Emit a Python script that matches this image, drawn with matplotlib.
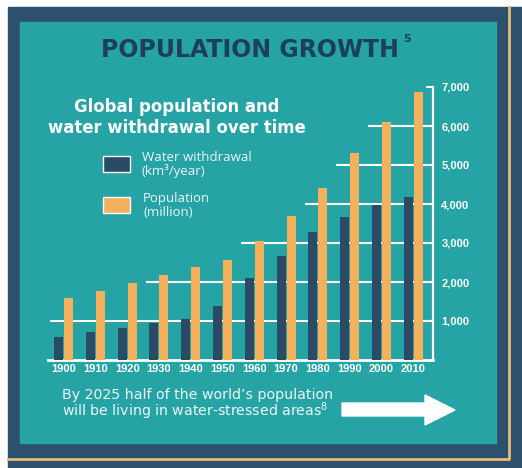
import matplotlib
matplotlib.use("Agg")
import matplotlib.pyplot as plt
from matplotlib.patches import Rectangle, Polygon

plt.rcParams['font.family'] = ['Liberation Sans', 'DejaVu Sans']

years = ['1900', '1910', '1920', '1930', '1940', '1950',
         '1960', '1970', '1980', '1990', '2000', '2010']
withdrawal = [590, 710, 820, 940, 1060, 1390, 2090, 2660, 3270, 3670, 3980, 4190]
population = [1580, 1760, 1970, 2170, 2380, 2570, 3040, 3680, 4420, 5300, 6090, 6870]
yticks = [1000, 2000, 3000, 4000, 5000, 6000, 7000]

TEAL = '#25a3a5'
FRAME = '#2d506d'
NAVY = '#2b4a66'
ORANGE = '#f3b15e'
GOLD = '#e6bc72'
TITLE = '#1c3f5c'
TXT = '#eef5f5'
W, H = 522, 468

fig = plt.figure(figsize=(W / 100, H / 100), dpi=100)
fig.patch.set_facecolor('white')

# background layer in pixel coordinates
bg = fig.add_axes([0, 0, 1, 1])
bg.set_xlim(0, W)
bg.set_ylim(H, 0)
bg.axis('off')
bg.add_patch(Rectangle((8, 7), W - 8, H - 7, color=FRAME, zorder=0))
bg.add_patch(Rectangle((20, 22), 476, 421, color=TEAL, zorder=1))
bg.plot([8, 509, 509], [459, 459, 7], color=GOLD, lw=2, zorder=1)

# title
t = bg.text(250, 57, 'POPULATION GROWTH', color=TITLE, fontsize=17,
            fontweight='bold', ha='center', va='baseline', family='DejaVu Sans')
fig.canvas.draw()
bg.text(t.get_window_extent().x1 + 4, 42, '5', color=TITLE, fontsize=8,
        fontweight='bold', ha='left', va='baseline', family='DejaVu Sans')

# subtitle
bg.text(177, 112, 'Global population and', color='white', fontsize=11.9,
        fontweight='bold', ha='center', va='baseline', family='DejaVu Sans')
bg.text(177, 133, 'water withdrawal over time', color='white', fontsize=11.9,
        fontweight='bold', ha='center', va='baseline', family='DejaVu Sans')

# legend
bg.add_patch(Rectangle((103, 156), 27, 16, facecolor=NAVY, edgecolor='white', lw=1, zorder=3))
bg.add_patch(Rectangle((103, 197), 27, 16, facecolor=ORANGE, edgecolor='white', lw=1, zorder=3))
for y, s, x in [(161, 'Water withdrawal', 142), (175, '(km³/year)', 142),
                (202, 'Population', 143), (216, '(million)', 143)]:
    bg.text(x, y, s, color=TXT, fontsize=9.5, va='baseline', family='Open Sans')

# bottom note + arrow
bg.text(62, 416, "By 2025 half of the world\u2019s population\n"
        "will be living in water-stressed areas$^{8}$",
        color=TXT, fontsize=10.2, va='baseline', family='DejaVu Sans',
        linespacing=0.88)
bg.add_patch(Polygon([(342, 403), (425, 403), (425, 395), (455, 410),
                      (425, 425), (425, 416), (342, 416)], color='white', zorder=3))

# chart
ax = fig.add_axes([48 / W, 1 - 360 / H, (433 - 48) / W, (360 - 87) / H])
ax.patch.set_alpha(0)
xs = list(range(len(years)))
bw = 9 / 31.8
off = 5 / 31.8
ax.bar([x - off for x in xs], withdrawal, width=bw, color=NAVY, zorder=3)
ax.bar([x + off for x in xs], population, width=bw, color=ORANGE, zorder=3)
ax.set_xlim(-0.49, 11.62)
ax.set_ylim(0, 7000)

# gridlines start just before the first group whose population passes the level
for lv in yticks[:-1]:
    first = next(i for i, p in enumerate(population) if p > lv)
    ax.hlines(lv, max(first - 0.42, -0.49), 11.62, color='white', lw=1.5, zorder=1)

for s in ['top', 'left']:
    ax.spines[s].set_visible(False)
ax.spines['bottom'].set_color('white')
ax.spines['bottom'].set_linewidth(2)
ax.spines['right'].set_color('white')
ax.spines['right'].set_linewidth(1.6)
ax.spines['right'].set_bounds(0, 7000)
ax.yaxis.tick_right()
ax.set_yticks(yticks)
ax.set_yticklabels([f'{v:,}' for v in yticks])
ax.tick_params(axis='y', direction='in', length=5, width=1.5, color='white',
               labelcolor='white', labelsize=8, pad=6)
ax.set_xticks(xs)
ax.set_xticklabels(years)
ax.tick_params(axis='x', length=0, labelcolor='white', labelsize=8, pad=3)
for lab in ax.get_xticklabels() + ax.get_yticklabels():
    lab.set_fontweight('bold')

fig.savefig('out.png', dpi=100)
